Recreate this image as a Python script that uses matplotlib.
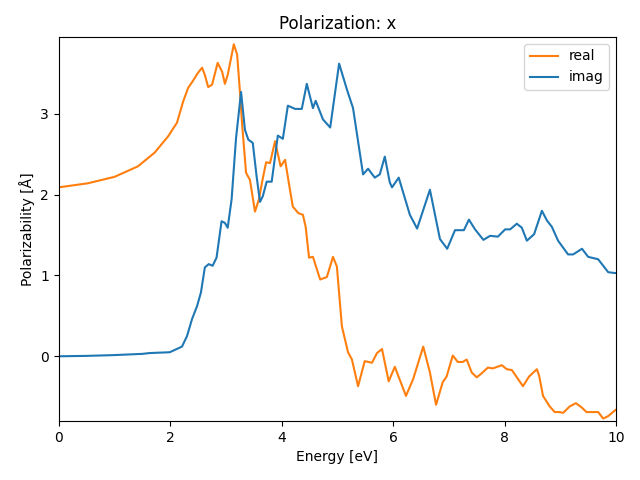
import matplotlib
matplotlib.use("Agg")
import matplotlib.pyplot as plt

real_e = [0.0, 0.52, 1.0, 1.42, 1.72, 1.96, 2.12, 2.23, 2.32, 2.40, 2.49, 2.57, 2.62, 2.68,
          2.75, 2.85, 2.93, 2.98, 3.03, 3.14, 3.20, 3.25, 3.29, 3.36, 3.43, 3.52, 3.59,
          3.66, 3.72, 3.79, 3.88, 3.98, 4.06, 4.15, 4.20, 4.30, 4.38, 4.43, 4.49, 4.56,
          4.62, 4.69, 4.81, 4.92, 4.99, 5.08, 5.19, 5.26, 5.37, 5.49, 5.62, 5.71, 5.80,
          5.92, 6.03, 6.23, 6.36, 6.54, 6.66, 6.77, 6.89, 6.96, 7.07, 7.16, 7.25, 7.32,
          7.41, 7.50, 7.59, 7.70, 7.79, 7.95, 8.04, 8.13, 8.20, 8.33, 8.44, 8.58, 8.62,
          8.69, 8.81, 8.90, 8.99, 9.05, 9.17, 9.28, 9.38, 9.47, 9.59, 9.68, 9.77, 9.86,
          9.98, 10.0]
real_v = [2.09, 2.14, 2.22, 2.35, 2.52, 2.72, 2.89, 3.15, 3.32, 3.40, 3.50, 3.57, 3.48, 3.33,
          3.36, 3.63, 3.52, 3.37, 3.48, 3.86, 3.73, 3.27, 2.86, 2.27, 2.18, 1.79, 1.94,
          2.20, 2.40, 2.39, 2.66, 2.35, 2.43, 2.05, 1.85, 1.77, 1.75, 1.60, 1.22, 1.23,
          1.10, 0.95, 0.98, 1.23, 1.11, 0.37, 0.05, -0.04, -0.37, -0.06, -0.08, 0.04, 0.09,
          -0.31, -0.13, -0.49, -0.28, 0.12, -0.20, -0.60, -0.32, -0.25, 0.01, -0.07, -0.07, -0.04,
          -0.20, -0.26, -0.21, -0.14, -0.15, -0.11, -0.16, -0.17, -0.24, -0.37, -0.25, -0.16, -0.24,
          -0.49, -0.62, -0.69, -0.69, -0.70, -0.62, -0.58, -0.63, -0.69, -0.69, -0.69, -0.77, -0.74,
          -0.67, -0.66]

imag_e = [0.0, 0.5, 1.0, 1.5, 1.63, 1.99, 2.21, 2.30, 2.39, 2.48, 2.55, 2.62, 2.69, 2.76,
          2.83, 2.92, 2.98, 3.03, 3.10, 3.18, 3.27, 3.34, 3.40, 3.48, 3.55, 3.61, 3.66, 3.73,
          3.82, 3.93, 4.02, 4.11, 4.24, 4.36, 4.45, 4.56, 4.61, 4.74, 4.87, 5.03, 5.17,
          5.28, 5.46, 5.55, 5.67, 5.76, 5.85, 5.94, 5.98, 6.10, 6.30, 6.43, 6.66, 6.84,
          6.97, 7.11, 7.27, 7.36, 7.47, 7.62, 7.74, 7.88, 8.01, 8.10, 8.22, 8.31, 8.40,
          8.53, 8.67, 8.76, 8.85, 8.96, 9.14, 9.23, 9.39, 9.50, 9.68, 9.86, 9.98, 10.0]
imag_v = [0.00, 0.005, 0.015, 0.03, 0.04, 0.05, 0.12, 0.25, 0.46, 0.62, 0.79, 1.10, 1.14, 1.12,
          1.22, 1.67, 1.65, 1.59, 1.94, 2.70, 3.27, 2.80, 2.68, 2.64, 2.22, 1.91, 1.98, 2.16,
          2.16, 2.73, 2.69, 3.10, 3.06, 3.06, 3.37, 3.07, 3.16, 2.93, 2.83, 3.62, 3.30,
          3.07, 2.25, 2.32, 2.21, 2.25, 2.47, 2.15, 2.09, 2.21, 1.75, 1.58, 2.06, 1.45,
          1.33, 1.56, 1.56, 1.69, 1.57, 1.44, 1.49, 1.48, 1.57, 1.57, 1.64, 1.59, 1.43,
          1.51, 1.80, 1.68, 1.60, 1.43, 1.26, 1.26, 1.33, 1.23, 1.20, 1.04, 1.03, 1.03]

fig, ax = plt.subplots(figsize=(6.4, 4.8), dpi=100)
fig.subplots_adjust(left=0.092, right=0.9625, top=0.923, bottom=0.123)
ax.plot(real_e, real_v, color="C1", label="real")
ax.plot(imag_e, imag_v, color="C0", label="imag")
ax.set_xlim(0, 10)
ax.set_ylim(-0.8, 3.95)
ax.set_xlabel("Energy [eV]")
ax.set_ylabel("Polarizability [Å]")
ax.set_title("Polarization: x")
ax.legend(loc="upper right")
fig.savefig("out.png")
